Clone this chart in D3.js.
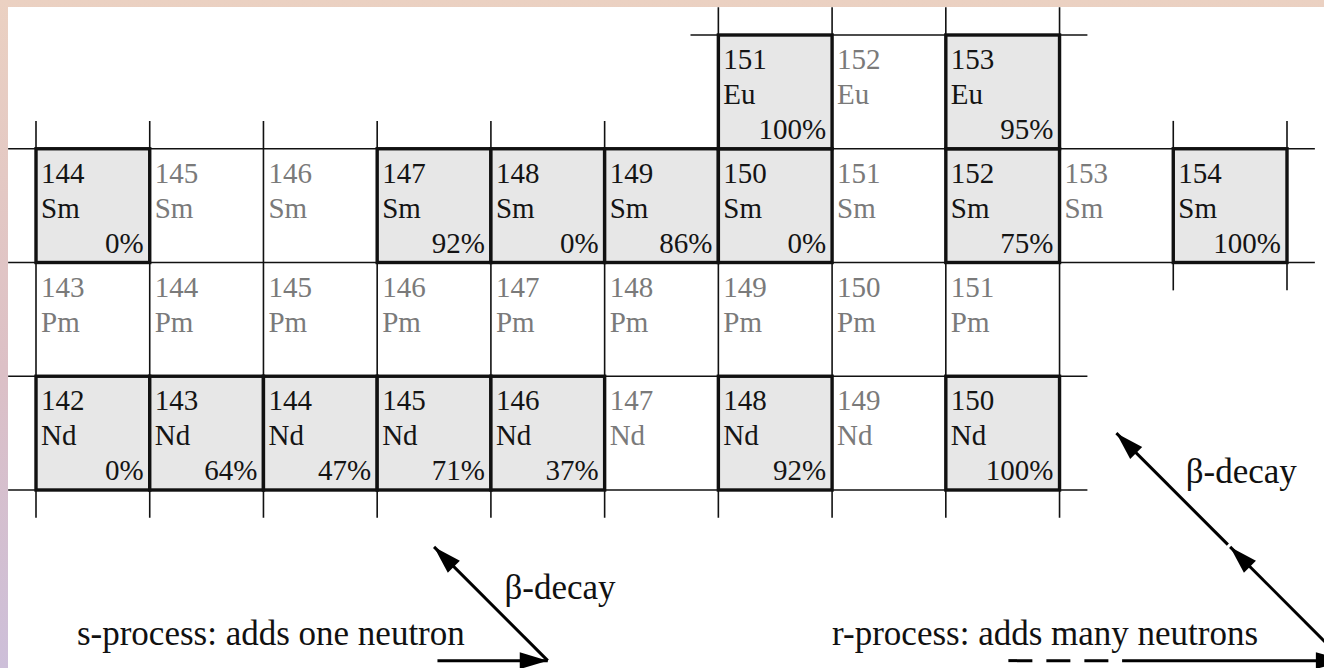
<!DOCTYPE html>
<html>
<head>
<meta charset="utf-8">
<script src="https://cdn.jsdelivr.net/npm/d3@7/dist/d3.min.js"></script>
<style>
  html, body { margin: 0; padding: 0; overflow: hidden; }
  svg { display: block; }
  text { font-family: "Liberation Serif", "Times New Roman", serif; }
</style>
</head>
<body>
<svg id="chart" width="1324" height="668"></svg>
<script>
// ---------- data ----------
const elementSymbols = ["Nd", "Pm", "Sm", "Eu"];
const protonNumbers  = [60, 61, 62, 63];

const ndMasses = [142, 143, 144, 145, 146, 147, 148, 149, 150];
const ndSProcessShare = [0, 64, 47, 71, 37, null, 92, null, 100];

const pmMasses = [143, 144, 145, 146, 147, 148, 149, 150, 151];
const pmSProcessShare = [null, null, null, null, null, null, null, null, null];

const smMasses = [144, 145, 146, 147, 148, 149, 150, 151, 152, 153, 154];
const smSProcessShare = [0, null, null, 92, 0, 86, 0, null, 75, null, 100];

const euMasses = [151, 152, 153];
const euSProcessShare = [100, null, 95];

const sProcessLabel = "s-process: adds one neutron";
const rProcessLabel = "r-process: adds many neutrons";
const betaLabel = "β-decay";

// ---------- build isotope table ----------
const rows = [
  {sym: "Nd", z: 60, masses: ndMasses, share: ndSProcessShare},
  {sym: "Pm", z: 61, masses: pmMasses, share: pmSProcessShare},
  {sym: "Sm", z: 62, masses: smMasses, share: smSProcessShare},
  {sym: "Eu", z: 63, masses: euMasses, share: euSProcessShare}
];
const isotopes = [];
rows.forEach(r => r.masses.forEach((a, i) => {
  isotopes.push({sym: r.sym, z: r.z, a: a, n: a - r.z, share: r.share[i], stable: r.share[i] !== null});
}));

// ---------- scales ----------
const W = 1324, H = 668;
const x = d3.scaleLinear().domain([82, 93]).range([36, 1287]);   // neutron number
const y = d3.scaleLinear().domain([64, 60]).range([35, 490]);     // proton number (row z spans z..z+1)

const svg = d3.select("#chart");
const defs = svg.append("defs");

// background
const bg = defs.append("linearGradient").attr("id", "bg").attr("x1", 0).attr("y1", 0).attr("x2", 0).attr("y2", 1);
bg.append("stop").attr("offset", "0%").attr("stop-color", "#ebd1c2");
bg.append("stop").attr("offset", "55%").attr("stop-color", "#dcc0c6");
bg.append("stop").attr("offset", "100%").attr("stop-color", "#cdbfd9");
svg.append("rect").attr("width", W).attr("height", H).attr("fill", "url(#bg)");
svg.append("rect").attr("x", 8).attr("y", 7).attr("width", W - 8).attr("height", H - 7).attr("fill", "#ffffff");

// arrow marker
defs.append("marker")
  .attr("id", "head")
  .attr("markerUnits", "userSpaceOnUse")
  .attr("viewBox", "-30 -10 32 20")
  .attr("refX", 0).attr("refY", 0)
  .attr("markerWidth", 32).attr("markerHeight", 20)
  .attr("orient", "auto")
  .append("path").attr("d", "M0,0 L-28,-8.5 L-28,8.5 Z").attr("fill", "#000");

// ---------- grid lines derived from cells ----------
const ext = 0.245;
const gridG = svg.append("g").attr("stroke", "#111").attr("stroke-width", 1.6).attr("fill", "none");

// horizontal boundaries at level b between row b-1 and row b
for (let b = 60; b <= 64; b++) {
  const adj = isotopes.filter(d => d.z === b || d.z === b - 1);
  if (!adj.length) continue;
  const n0 = d3.min(adj, d => d.n), n1 = d3.max(adj, d => d.n) + 1;
  gridG.append("line")
    .attr("x1", x(n0 - ext)).attr("x2", x(n1 + ext))
    .attr("y1", y(b)).attr("y2", y(b));
}
// vertical boundaries at N between cell N-1 and cell N
for (let nb = 82; nb <= 93; nb++) {
  const adj = isotopes.filter(d => d.n === nb || d.n === nb - 1);
  if (!adj.length) continue;
  const z0 = d3.min(adj, d => d.z), z1 = d3.max(adj, d => d.z) + 1;
  gridG.append("line")
    .attr("x1", x(nb)).attr("x2", x(nb))
    .attr("y1", y(z1 + ext)).attr("y2", y(z0 - ext));
}

// ---------- cells ----------
const cells = svg.append("g").selectAll("g.cell").data(isotopes).join("g").attr("class", "cell");
cells.filter(d => d.stable).append("rect")
  .attr("x", d => x(d.n)).attr("y", d => y(d.z + 1))
  .attr("width", d => x(d.n + 1) - x(d.n)).attr("height", d => y(d.z) - y(d.z + 1))
  .attr("fill", "#e7e7e7").attr("stroke", "#111").attr("stroke-width", 3.4);

const textColor = d => d.stable ? "#141414" : "#7a7a7a";
cells.append("text")
  .attr("x", d => x(d.n) + 5).attr("y", d => y(d.z + 1) + 34)
  .attr("font-size", 29).attr("fill", textColor)
  .text(d => d.a);
cells.append("text")
  .attr("x", d => x(d.n) + 5).attr("y", d => y(d.z + 1) + 69)
  .attr("font-size", 29).attr("fill", textColor)
  .text(d => d.sym);
cells.filter(d => d.stable).append("text")
  .attr("x", d => x(d.n + 1) - 6).attr("y", d => y(d.z + 1) + 104)
  .attr("text-anchor", "end")
  .attr("font-size", 29).attr("fill", textColor)
  .text(d => d.share + "%");

// ---------- process arrows (in chart units) ----------
const arrowG = svg.append("g").attr("stroke", "#000").attr("stroke-width", 3).attr("fill", "none");
function arrow(n0, z0, n1, z1, dash) {
  const l = arrowG.append("line")
    .attr("x1", x(n0)).attr("y1", y(z0)).attr("x2", x(n1)).attr("y2", y(z1));
  if (dash) l.attr("stroke-dasharray", dash); else l.attr("marker-end", "url(#head)");
  return l;
}
// s-process
arrow(85.53, 58.5, 86.5, 58.5);
arrow(86.5, 58.5, 85.5, 59.5);
// r-process
arrow(90.55, 58.5, 91.45, 58.5, "24,14");
arrow(91.55, 58.5, 93.5, 58.5);
arrow(93.5, 58.5, 92.5, 59.5);
arrow(92.48, 59.52, 91.5, 60.5);

const labG = svg.append("g").attr("fill", "#111").attr("font-size", 35);
labG.append("text").attr("x", x(82.36)).attr("y", y(58.64)).text(sProcessLabel);
labG.append("text").attr("x", x(89.0)).attr("y", y(58.64)).text(rProcessLabel);
labG.append("text").attr("x", x(86.12)).attr("y", y(59.04)).text(betaLabel);
labG.append("text").attr("x", x(92.11)).attr("y", y(60.06)).text(betaLabel);
</script>
</body>
</html>
